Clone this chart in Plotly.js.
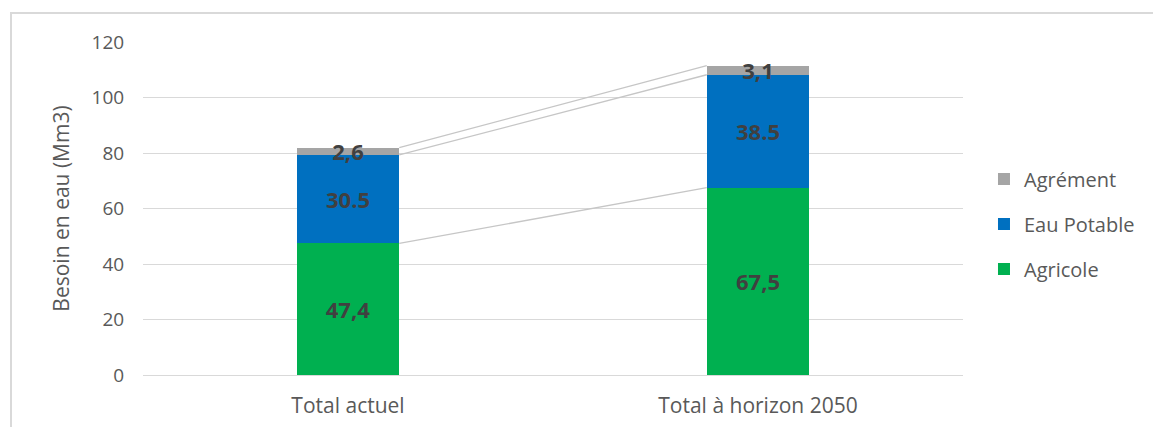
<!DOCTYPE html>
<html>
<head>
<meta charset="utf-8">
<script src="https://cdn.plot.ly/plotly-3.0.1.min.js"></script>
<style>
  html, body { margin: 0; padding: 0; background: #ffffff; }
  #chart { width: 1153px; height: 427px; }
</style>
</head>
<body>
<div id="chart"></div>
<script>
// Data
const categories = ["Total actuel", "Total à horizon 2050"];
const seriesNames = ["Agricole", "Eau Potable", "Agrément"];
const agricole = [47.4, 67.5];
const eauPotable = [31.9, 40.7];
const agrement = [2.6, 3.3];
// Data labels exactly as printed on the chart
const agricoleLabels = ["47,4", "67,5"];
const eauPotableLabels = ["30.5", "38.5"];
const agrementLabels = ["2,6", "3,1"];
const yTicks = [0, 20, 40, 60, 80, 100, 120];

const colors = ["#00b050", "#0070c0", "#a5a5a5"];
const xIdx = categories.map((c, i) => i);
const barWidth = 0.25;
const labelFont = { family: "Open Sans, sans-serif", size: 22, color: "#404040", weight: 700 };

const seriesValues = [agricole, eauPotable, agrement];
const seriesLabels = [agricoleLabels, eauPotableLabels, agrementLabels];

const traces = [];
// Series lines (connect segment tops between the two bars)
let cum = [0, 0];
seriesValues.forEach((vals) => {
  cum = cum.map((c, i) => c + vals[i]);
  traces.push({
    type: "scatter",
    mode: "lines",
    x: [xIdx[0] + barWidth / 2, xIdx[1] - barWidth / 2],
    y: cum.slice(),
    line: { color: "#c6c6c6", width: 1.3 },
    showlegend: false,
    hoverinfo: "skip"
  });
});

seriesValues.forEach((vals, s) => {
  traces.push({
    type: "bar",
    name: seriesNames[s],
    x: xIdx,
    y: vals,
    width: barWidth,
    marker: { color: colors[s], line: { width: 0 } },
    text: seriesLabels[s],
    textposition: "inside",
    insidetextanchor: "middle",
    constraintext: "none",
    textangle: 0,
    textfont: labelFont,
    legendgroup: seriesNames[s],
    legendrank: 1000 - s,
    hoverinfo: "skip"
  });
});

const layout = {
  width: 1153,
  height: 427,
  margin: { l: 143, r: 190, t: 42, b: 52 },
  paper_bgcolor: "#ffffff",
  plot_bgcolor: "#ffffff",
  barmode: "stack",
  showlegend: true,
  font: { family: "Open Sans, sans-serif", color: "#595959" },
  xaxis: {
    range: [-0.5, 1.5],
    tickvals: xIdx,
    ticktext: categories,
    tickfont: { family: "Open Sans, sans-serif", size: 21, color: "#595959" },
    showgrid: false,
    zeroline: false,
    showline: true,
    linecolor: "#d9d9d9",
    linewidth: 1,
    ticks: "outside",
    ticklen: 12,
    tickcolor: "rgba(0,0,0,0)",
    fixedrange: true
  },
  yaxis: {
    range: [0, 120],
    tickvals: yTicks,
    tickfont: { size: 19, color: "#595959" },
    gridcolor: "#d9d9d9",
    gridwidth: 1,
    zeroline: false,
    showline: false,
    ticks: "outside",
    ticklen: 14,
    tickcolor: "rgba(0,0,0,0)",
    title: { text: "Besoin en eau (Mm3)", font: { size: 21, color: "#595959" }, standoff: 16 },
    fixedrange: true
  },
  legend: {
    x: 1.0256,
    xanchor: "left",
    y: (375 - 224) / 333,
    yanchor: "middle",
    traceorder: "grouped",
    tracegroupgap: 16,
    font: { size: 20, color: "#595959" },
    itemwidth: 30
  },
  shapes: [{
    type: "rect", xref: "paper", yref: "paper",
    x0: -132 / 820, x1: 1.3, y0: -0.3, y1: (375 - 13) / 333,
    line: { color: "#d9d9d9", width: 2 }, fillcolor: "rgba(0,0,0,0)", layer: "below"
  }]
};

Plotly.newPlot("chart", traces, layout, { displayModeBar: false, staticPlot: true });
</script>
</body>
</html>
